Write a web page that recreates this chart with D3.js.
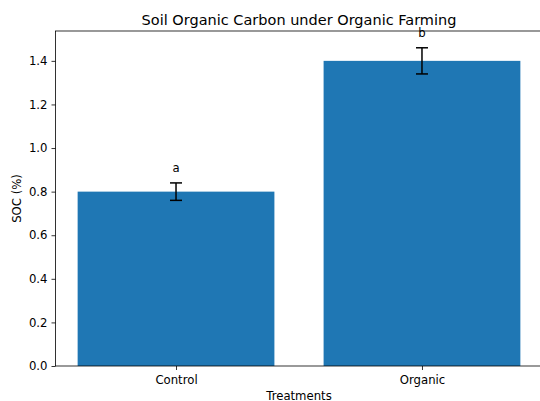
<!DOCTYPE html>
<html>
<head>
<meta charset="utf-8">
<script src="https://cdn.jsdelivr.net/npm/d3@7"></script>
<style>
  body { margin: 0; background: #fff; }
  text { font-family: "DejaVu Sans", sans-serif; fill: #000; }
</style>
</head>
<body>
<svg width="540" height="401"></svg>
<script>
// Data
var treatments = ["Control", "Organic"];
var socMeans = [0.8, 1.4];
var socErrors = [0.04, 0.06];
var letters = ["a", "b"];
var yTicks = [0, 0.2, 0.4, 0.6, 0.8, 1.0, 1.2, 1.4];

// The svg
var svg = d3.select("svg"),
    width = +svg.attr("width"),
    height = +svg.attr("height");

var margin = { left: 55.5, right: -2.5, top: 31, bottom: 35 };
var plotW = width - margin.left - margin.right,
    plotH = height - margin.top - margin.bottom;

// x: bars at 0..n-1, width 0.8, matplotlib-like margins
var x = d3.scaleLinear()
    .domain([-0.49, 1.49])
    .range([margin.left, margin.left + plotW]);
var y = d3.scaleLinear()
    .domain([0, 1.537])
    .range([margin.top + plotH, margin.top]);

var barW = 0.8;

// Bars
svg.append("g")
  .selectAll("rect")
  .data(treatments)
  .enter().append("rect")
    .attr("x", function (d, i) { return x(i - barW / 2); })
    .attr("width", function () { return x(barW) - x(0); })
    .attr("y", function (d, i) { return y(socMeans[i]); })
    .attr("height", function (d, i) { return y(0) - y(socMeans[i]); })
    .attr("fill", "#1f77b4");

// Error bars
var eb = svg.append("g")
  .selectAll("g")
  .data(treatments)
  .enter().append("g")
    .attr("stroke", "#000")
    .attr("stroke-width", 1.5);
eb.append("line")
    .attr("x1", function (d, i) { return x(i); })
    .attr("x2", function (d, i) { return x(i); })
    .attr("y1", function (d, i) { return y(socMeans[i] - socErrors[i]); })
    .attr("y2", function (d, i) { return y(socMeans[i] + socErrors[i]); });
[-1, 1].forEach(function (s) {
  eb.append("line")
      .attr("x1", function (d, i) { return x(i) - 6; })
      .attr("x2", function (d, i) { return x(i) + 6; })
      .attr("y1", function (d, i) { return y(socMeans[i] + s * socErrors[i]); })
      .attr("y2", function (d, i) { return y(socMeans[i] + s * socErrors[i]); });
});

// Significance letters
svg.append("g")
  .selectAll("text")
  .data(letters)
  .enter().append("text")
    .attr("x", function (d, i) { return x(i); })
    .attr("y", function (d, i) { return y(socMeans[i] + socErrors[i] + 0.05); })
    .attr("text-anchor", "middle")
    .attr("font-size", "11.7px")
    .text(function (d) { return d; });

// Axes
var yAxis = d3.axisLeft(y)
    .tickValues(yTicks)
    .tickFormat(d3.format(".1f"))
    .tickSize(4)
    .tickPadding(4);
var gy = svg.append("g")
    .attr("transform", "translate(" + margin.left + ",0)")
    .call(yAxis);

var xAxis = d3.axisBottom(x)
    .tickValues([0, 1])
    .tickFormat(function (d) { return treatments[d]; })
    .tickSize(4)
    .tickPadding(6);
var gx = svg.append("g")
    .attr("transform", "translate(0," + y(0) + ")")
    .call(xAxis);

[gx, gy].forEach(function (g) {
  g.select(".domain").remove();
  g.selectAll(".tick line").attr("stroke", "#000").attr("stroke-width", 0.8);
  g.selectAll(".tick text").attr("font-size", "11.7px").attr("font-family", "DejaVu Sans, sans-serif");
});

// Spines
var x0 = margin.left, x1 = margin.left + plotW, y0 = margin.top, y1 = margin.top + plotH;
svg.append("rect")
    .attr("x", x0).attr("y", y0)
    .attr("width", x1 - x0).attr("height", y1 - y0)
    .attr("fill", "none")
    .attr("stroke", "#000")
    .attr("stroke-width", 0.8);

// Labels
svg.append("text")
    .attr("x", 299)
    .attr("y", 25)
    .attr("text-anchor", "middle")
    .attr("font-size", "14.5px")
    .text("Soil Organic Carbon under Organic Farming");

svg.append("text")
    .attr("x", 299)
    .attr("y", 400)
    .attr("text-anchor", "middle")
    .attr("font-size", "11.7px")
    .text("Treatments");

svg.append("text")
    .attr("transform", "translate(21," + ((y0 + y1) / 2) + ") rotate(-90)")
    .attr("text-anchor", "middle")
    .attr("font-size", "11.7px")
    .text("SOC (%)");
</script>
</body>
</html>
